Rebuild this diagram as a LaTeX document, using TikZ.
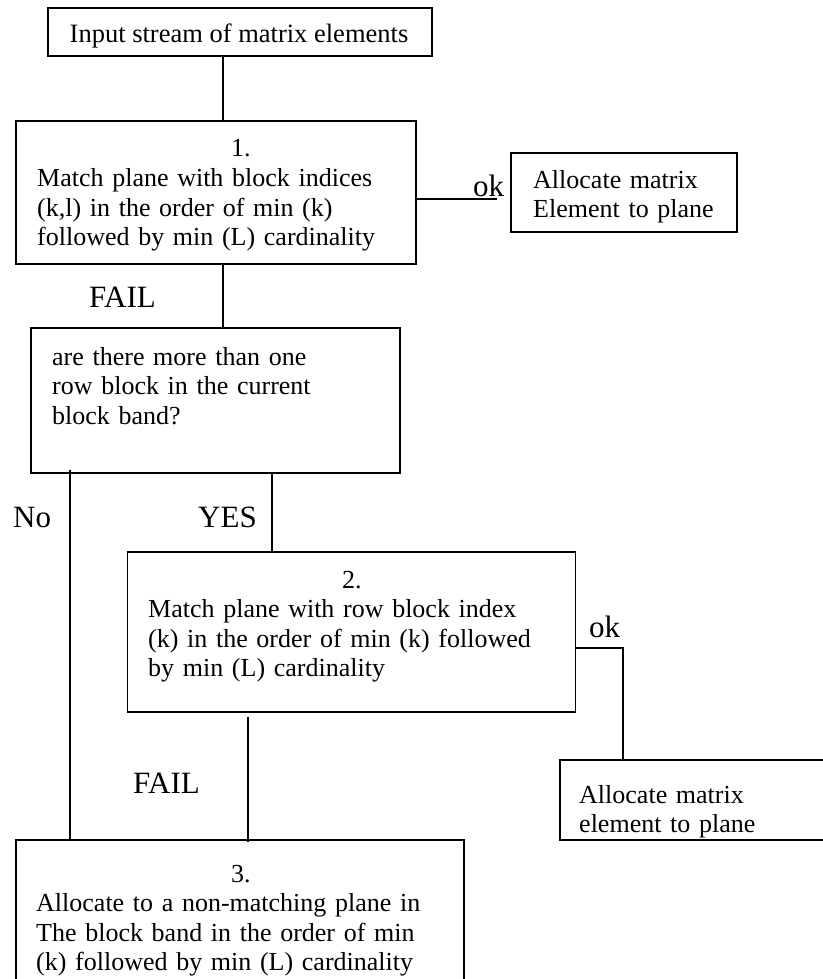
\documentclass[tikz,border=0pt]{standalone}
\usepackage{fontspec}
\setmainfont{Liberation Serif}
\usepackage{tikz}
\tikzstyle{flowBox}=[shape = rectangle, draw, line width = 1.2pt, inner sep = 0pt]
\tikzstyle{boxText}=[anchor = base west, inner sep = 0pt, align = left, text width = 420pt, font = \fontsize{26}{29.5}\selectfont]
\tikzstyle{branchLabel}=[anchor = base west, inner sep = 0pt, font = \fontsize{31}{31}\selectfont]

\begin{document}
\begin{tikzpicture}[x = 1pt, y = -1pt]
\tikzstyle{EdgeStyle} = [line width = 1.2pt]
\useasboundingbox (0,0) rectangle (822,979);
% boxes
\node[flowBox, minimum width = 384pt, minimum height = 48pt] (input) at (240,32) {};
\node[flowBox, minimum width = 400pt, minimum height = 143pt] (matchOne) at (216,192.5) {};
\node[flowBox, minimum width = 226pt, minimum height = 79pt] (allocOne) at (624,192.5) {};
\node[flowBox, minimum width = 369pt, minimum height = 145pt] (question) at (215.5,400.5) {};
\node[flowBox, minimum width = 448pt, minimum height = 160pt] (matchTwo) at (351.5,632) {};
\node[flowBox, minimum width = 270pt, minimum height = 80pt] (allocTwo) at (695,800) {};
\node[flowBox, minimum width = 448pt, minimum height = 150pt] (allocThree) at (240,915) {};
% texts
\node[anchor = base, inner sep = 0pt, font = \fontsize{26.5}{29.5}\selectfont] (inputText) at (239,43) {Input stream of matrix elements};
\node[boxText] (matchOneText) at (37,157) {\hspace*{194pt}1.\\Match plane with block indices\\(k,l) in the order of min (k)\\followed by min (L) cardinality};
\node[boxText, text width = 200pt] (allocOneText) at (533,188) {Allocate matrix\\Element to plane};
\node[boxText] (questionText) at (52,365) {are there more than one\\row block in the current\\block band?};
\node[boxText] (matchTwoText) at (148,588) {\hspace*{194pt}2.\\Match plane with row block index\\(k) in the order of min (k) followed\\by min (L) cardinality};
\node[boxText, text width = 230pt] (allocTwoText) at (579,803) {Allocate matrix\\element to plane};
\node[boxText] (allocThreeText) at (36,882) {\hspace*{195pt}3.\\Allocate to a non-matching plane in\\The block band in the order of min\\(k) followed by min (L) cardinality};
% branch labels
\node[branchLabel] (failOne) at (89,307) {FAIL};
\node[branchLabel] (okOne) at (473,196) {ok};
\node[branchLabel] (no) at (13,527) {No};
\node[branchLabel] (yes) at (198,527) {YES};
\node[branchLabel] (okTwo) at (589,637) {ok};
\node[branchLabel] (failTwo) at (133,793) {FAIL};
% connectors
\coordinate (okOneEnd) at (497,199);
\coordinate (okTwoBend) at (623,648);
\draw[EdgeStyle] (input.south -| 223,0) -- (matchOne.north -| 223,0);
\draw[EdgeStyle] (matchOne.east |- okOneEnd) -- (okOneEnd);
\draw[EdgeStyle] (matchOne.south -| 223,0) -- (question.north -| 223,0);
\draw[EdgeStyle] ([yshift = 4pt]question.south -| 70,0) -- (allocThree.north -| 70,0);
\draw[EdgeStyle] (question.south -| 272,0) -- (matchTwo.north -| 272,0);
\draw[EdgeStyle] (matchTwo.east |- okTwoBend) -- (okTwoBend) -- (allocTwo.north -| okTwoBend);
\draw[EdgeStyle] ([yshift = -4pt]matchTwo.south -| 248,0) -- ([yshift = -3pt]allocThree.north -| 248,0);
\end{tikzpicture}
\end{document}
